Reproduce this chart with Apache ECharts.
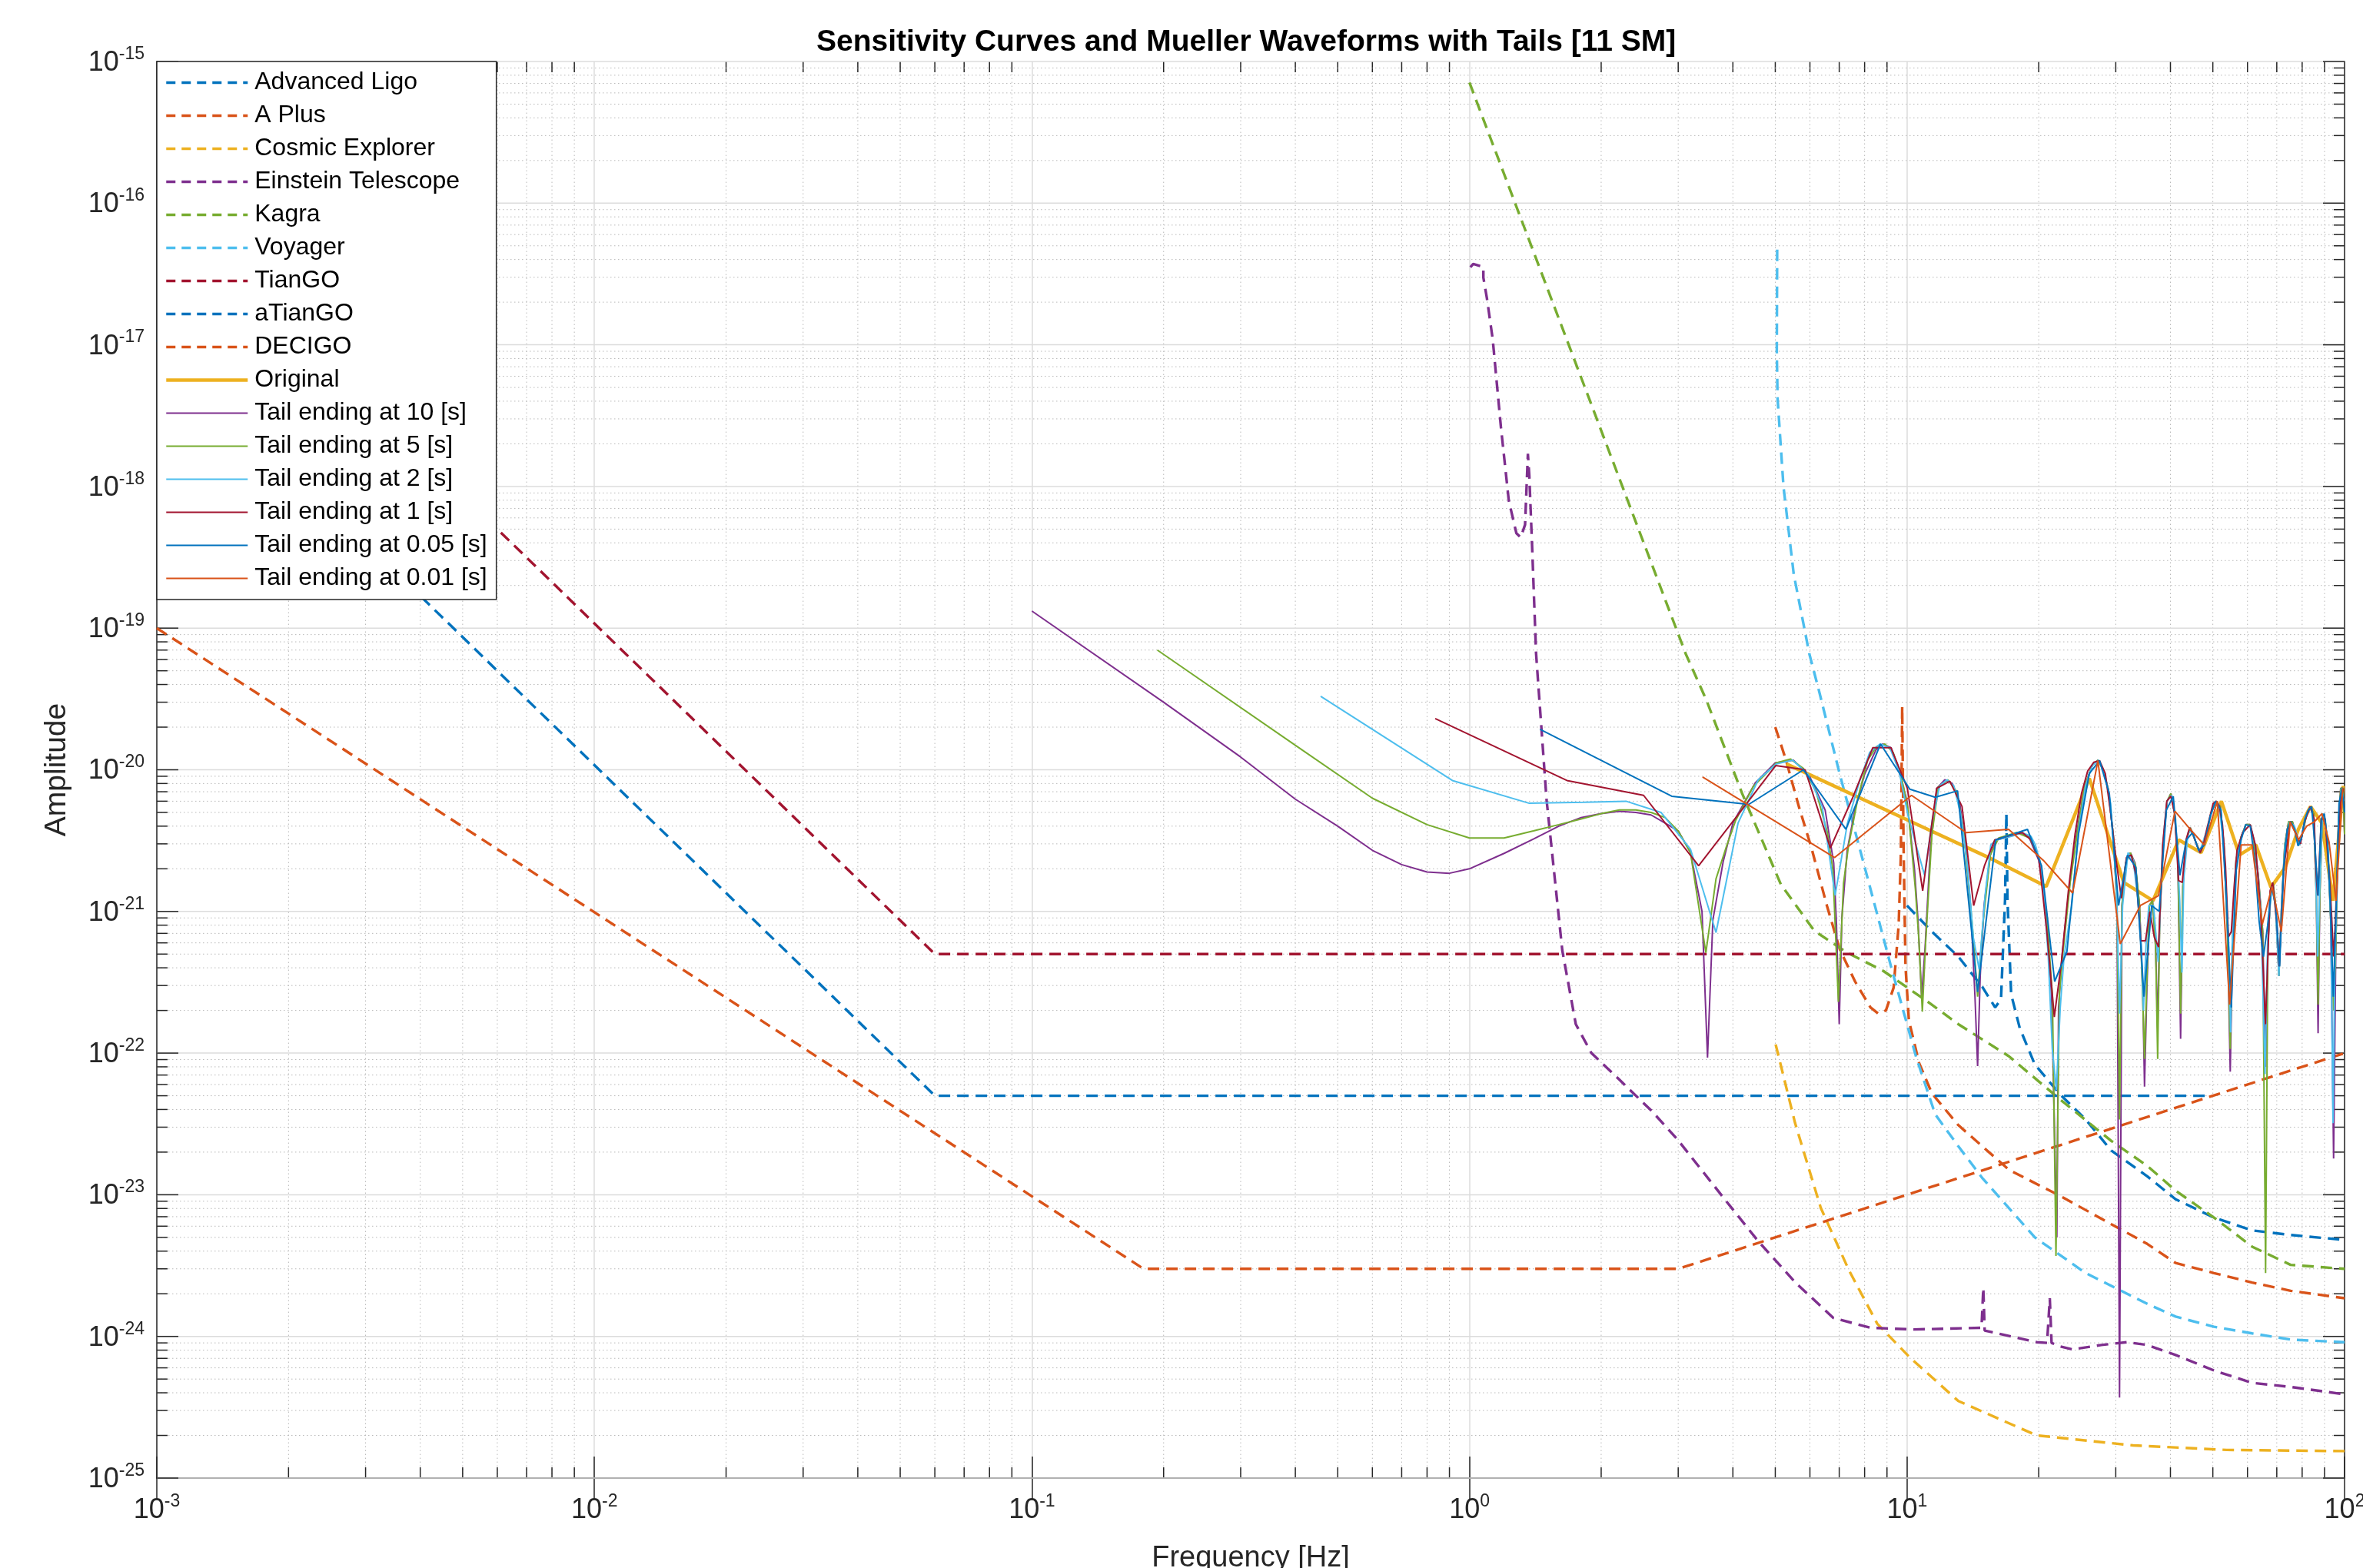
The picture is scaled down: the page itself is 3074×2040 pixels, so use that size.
<!DOCTYPE html>
<html>
<head>
<meta charset="utf-8">
<title>Sensitivity Curves and Mueller Waveforms with Tails</title>
<script src="https://cdn.jsdelivr.net/npm/echarts@6/dist/echarts.min.js"></script>
<style>
  html, body { margin: 0; padding: 0; background: #fff; }
  #chart { width: 3074px; height: 2040px; }
</style>
</head>
<body>
<div id="chart"></div>
<script>
// detector sensitivity curves, [frequency Hz, amplitude]
var advancedLigo = [[10.0,1.1e-21],[11.4,7.2e-22],[13.1,4.8e-22],[14.9,2.9e-22],[15.9,2.1e-22],[16.4,2.4e-22],[16.75,1.2e-21],[16.87,4.9e-21],[16.97,1.2e-21],[17.3,2.6e-22],[18.1,1.5e-22],[19.6,8.3e-23],[22.4,5.1e-23],[25.6,3.4e-23],[29.3,2.05e-23],[35.4,1.35e-23],[41.1,9.3e-24],[50.3,6.9e-24],[61.5,5.6e-24],[75.3,5.2e-24],[100,4.8e-24]];
var aPlus = [[5.0,2.0e-20],[5.29,1.17e-20],[5.66,5.5e-21],[6.05,2.8e-21],[6.56,1.1e-21],[7.02,5.4e-22],[7.61,3.2e-22],[8.25,2.1e-22],[8.6,1.9e-22],[8.95,2.0e-22],[9.32,2.9e-22],[9.57,8e-22],[9.68,2.45e-21],[9.75,2.8e-20],[9.82,3e-21],[9.92,4.1e-22],[10.1,1.7e-22],[10.66,8.5e-23],[11.4,5.2e-23],[13.1,3.1e-23],[17.1,1.5e-23],[22.4,9.8e-24],[29.3,6.2e-24],[35.4,4.5e-24],[41.1,3.3e-24],[50.3,2.8e-24],[61.5,2.4e-24],[75.3,2.1e-24],[100,1.86e-24]];
var cosmicExplorer = [[5.01,1.15e-22],[5.55,3.2e-23],[6.35,8.1e-24],[7.36,2.95e-24],[8.55,1.23e-24],[10.2,7.0e-25],[13.1,3.5e-25],[19.8,2.0e-25],[32.9,1.7e-25],[53.8,1.58e-25],[100,1.55e-25]];
var einsteinTelescope = [[1.005,3.53e-17],[1.02,3.72e-17],[1.076,3.55e-17],[1.076,2.98e-17],[1.096,2.14e-17],[1.13,1.1e-17],[1.18,2.63e-18],[1.23,7.94e-19],[1.28,4.68e-19],[1.31,4.37e-19],[1.34,5.37e-19],[1.36,1.7e-18],[1.37,1.2e-18],[1.39,3.9e-19],[1.42,6.6e-20],[1.5,6.2e-21],[1.63,5.3e-22],[1.75,1.6e-22],[1.9,1.0e-22],[2.2,6.5e-23],[2.61,3.9e-23],[2.99,2.45e-23],[3.76,1.0e-23],[4.57,4.7e-24],[5.56,2.4e-24],[6.79,1.35e-24],[8.26,1.15e-24],[10.4,1.12e-24],[14.8,1.15e-24],[14.94,2.2e-24],[15.05,1.1e-24],[19.8,9.1e-25],[20.9,9.0e-25],[21.2,1.86e-24],[21.4,9.0e-25],[22.4,8.5e-25],[23.9,8.1e-25],[27.8,8.7e-25],[31.8,9.1e-25],[35.4,8.7e-25],[41.1,7.4e-25],[50.3,5.75e-25],[61.5,4.7e-25],[75.3,4.4e-25],[100,3.9e-25]];
var kagra = [[1.0,7.1e-16],[3.12,6.6e-20],[3.48,3.1e-20],[4.2,6.8e-21],[5.15,1.55e-21],[6.14,7.3e-22],[7.31,5.1e-22],[8.83,3.8e-22],[11.3,2.24e-22],[13.1,1.6e-22],[17.1,9.5e-23],[22.4,4.7e-23],[29.3,2.4e-23],[35.4,1.6e-23],[41.1,1.07e-23],[50.3,6.9e-24],[61.5,4.3e-24],[75.3,3.2e-24],[100,3.0e-24]];
var voyager = [[5.05,4.7e-17],[5.04,9.0e-18],[5.06,4.2e-18],[5.22,1.0e-18],[5.51,2.4e-19],[5.98,6.6e-20],[6.3,3.56e-20],[7.02,9.3e-21],[8.04,1.95e-21],[9.19,4.1e-22],[10.5,9.3e-23],[11.6,3.7e-23],[13.1,2.2e-23],[14.9,1.3e-23],[19.6,5.0e-24],[25.6,2.8e-24],[35.4,1.7e-24],[41.1,1.38e-24],[50.3,1.17e-24],[61.5,1.05e-24],[75.3,9.5e-25],[100,9.1e-25]];
var tianGO = [[0.001,1.08e-16],[0.06,5e-22],[100,5e-22]];
var aTianGO = [[0.001,1.08e-17],[0.06,5e-23],[48,5e-23]];
var decigo = [[0.001,1e-19],[0.18,3.0e-24],[3.0,3.0e-24],[100,1e-22]];

// waveform spectra
var original = [[5.3,1.1e-20],[10.4,4.2e-21],[15.6,2.35e-21],[20.8,1.5e-21],[26.1,8.7e-21],[31.3,1.6e-21],[36.5,1.19e-21],[41.8,3.2e-21],[47.0,2.6e-21],[52.3,6.0e-21],[57.5,2.5e-21],[62.7,2.95e-21],[67.9,1.48e-21],[73.2,2.05e-21],[78.4,3.8e-21],[83.6,5.5e-21],[88.8,4.2e-21],[94.1,1.19e-21],[99.3,7.7e-21]];
var tail10 = [[0.1,1.32e-19],[0.2,3.0e-20],[0.3,1.23e-20],[0.4,6.2e-21],[0.5,4.0e-21],[0.6,2.7e-21],[0.7,2.14e-21],[0.8,1.9e-21],[0.9,1.86e-21],[1.0,2.0e-21],[1.2,2.57e-21],[1.4,3.24e-21],[1.6,4.0e-21],[1.8,4.6e-21],[2.0,4.9e-21],[2.2,5.1e-21],[2.4,5.0e-21],[2.6,4.8e-21],[2.8,4.2e-21],[3.0,3.7e-21],[3.2,2.6e-21],[3.4,1.0e-21],[3.5,9.3e-23],[3.6,8.7e-22],[3.8,2.24e-21],[4.0,4.2e-21],[4.5,8.1e-21],[5.0,1.12e-20],[5.5,1.17e-20],[6.0,8.9e-21],[6.5,5.2e-21],[6.8,2.2e-21],[6.9,8e-22],[7.0,1.6e-22],[7.1,9.1e-22],[7.3,2.7e-21],[7.6,5.2e-21],[8.0,9.3e-21],[8.5,1.39e-20],[8.8,1.52e-20],[9.2,1.43e-20],[9.6,9.7e-21],[10.0,6.0e-21],[10.4,2.0e-21],[10.6,8.5e-22],[10.8,2.5e-22],[11.0,5.6e-22],[11.3,2.7e-21],[11.7,7.4e-21],[12.2,8.5e-21],[12.7,8.0e-21],[13.2,5.8e-21],[13.6,2.96e-21],[14.0,1.0e-21],[14.3,2.5e-22],[14.5,8.1e-23],[14.7,3.5e-22],[15.0,1.1e-21],[15.5,2.5e-21],[16.0,3.2e-21],[17.0,3.35e-21],[18.0,3.6e-21],[19.0,3.35e-21],[20.0,2.3e-21],[20.8,1.0e-21],[21.4,2.5e-22],[22.0,5e-24],[22.2,2.1e-22],[22.6,4.8e-22],[23.5,1.5e-21],[24.5,3.8e-21],[25.5,7.7e-21],[26.5,1.07e-20],[27.3,1.17e-20],[28.0,1.02e-20],[28.8,7.4e-21],[29.6,3.5e-21],[30.2,1.1e-21],[30.6,3.7e-25],[31.0,1.1e-21],[31.6,2.2e-21],[32.4,2.6e-21],[33.2,2.2e-21],[34.0,1.1e-21],[34.6,2.5e-22],[34.9,5.8e-23],[35.3,2.5e-22],[35.8,1.1e-21],[36.4,1.19e-21],[37.0,5.6e-22],[37.4,1.5e-22],[37.8,8.5e-22],[38.5,2.95e-21],[39.3,6.0e-21],[40.1,6.8e-21],[40.9,4.9e-21],[41.6,2.3e-21],[42.2,1.26e-22],[42.7,1.5e-21],[43.5,3.2e-21],[44.4,3.9e-21],[45.5,3.2e-21],[46.8,2.6e-21],[48.0,3.2e-21],[49.5,4.9e-21],[50.8,6.0e-21],[52.0,5.5e-21],[53.0,2.95e-21],[54.0,7.2e-22],[54.8,7.4e-23],[55.6,8.5e-22],[56.5,2.3e-21],[58.0,3.35e-21],[59.5,4.1e-21],[60.8,4.1e-21],[62.0,3.2e-21],[63.5,1.8e-21],[65.0,7.2e-22],[66.0,8e-23],[66.8,5.6e-22],[67.8,1.4e-21],[68.6,1.6e-21],[69.6,1.1e-21],[70.8,3.5e-22],[71.8,1.1e-21],[73.0,2.95e-21],[74.5,4.3e-21],[76.0,4.3e-21],[77.5,3.5e-21],[79.0,2.95e-21],[80.5,3.8e-21],[82.0,4.9e-21],[83.5,5.5e-21],[85.0,4.9e-21],[86.2,1.29e-21],[87.0,1.38e-22],[87.8,1.29e-21],[89.0,4.9e-21],[90.2,4.5e-21],[91.5,2.95e-21],[93.0,8.5e-22],[94.4,1.8e-23],[95.5,5.6e-22],[96.8,4.1e-21],[98.0,7.4e-21],[99.2,7.4e-21],[100,3.5e-21]];
var tail5 = [[0.1935,7.0e-20],[0.4,1.49e-20],[0.6,6.3e-21],[0.8,4.1e-21],[1.0,3.3e-21],[1.2,3.3e-21],[1.4,3.7e-21],[1.6,4.1e-21],[1.8,4.5e-21],[2.0,4.9e-21],[2.2,5.2e-21],[2.4,5.2e-21],[2.6,5.0e-21],[2.8,4.6e-21],[3.0,3.7e-21],[3.2,2.6e-21],[3.47,5.1e-22],[3.66,1.7e-21],[3.87,2.9e-21],[4.06,4.4e-21],[4.45,7.6e-21],[5.03,1.12e-20],[5.42,1.19e-20],[5.8,1.02e-20],[6.19,7.1e-21],[6.58,3.6e-21],[6.77,1.95e-21],[6.97,2.3e-22],[7.16,1.58e-21],[7.35,2.9e-21],[7.74,6.5e-21],[8.13,1.17e-20],[8.52,1.46e-20],[8.9,1.52e-20],[9.29,1.33e-20],[9.68,9.3e-21],[10.06,5.2e-21],[10.45,1.44e-21],[10.64,6.4e-22],[10.84,1.96e-22],[11.03,6e-22],[11.4,3.5e-21],[11.8,7.6e-21],[12.4,8.5e-21],[13.0,7.0e-21],[13.5,3.5e-21],[14.1,8e-22],[14.5,2.5e-22],[14.9,8e-22],[15.5,2.5e-21],[16.2,3.3e-21],[17.8,3.6e-21],[19.1,3.3e-21],[20.1,2.3e-21],[20.9,9e-22],[21.5,2.5e-22],[21.9,3.7e-24],[22.3,2.6e-22],[22.7,5e-22],[23.6,1.6e-21],[24.6,3.9e-21],[25.5,7.7e-21],[26.5,1.07e-20],[27.3,1.17e-20],[28.1,1.0e-20],[28.8,7.4e-21],[29.6,3.5e-21],[30.2,1.1e-21],[30.6,3.4e-23],[31.0,1.1e-21],[31.6,2.2e-21],[32.4,2.6e-21],[33.3,2.1e-21],[34.0,1.1e-21],[34.5,3e-22],[34.9,9.1e-23],[35.3,3e-22],[35.8,1.1e-21],[36.4,1.19e-21],[37.0,5.6e-22],[37.4,9.1e-23],[37.8,8.5e-22],[38.5,2.95e-21],[39.3,6.0e-21],[40.1,6.8e-21],[40.9,4.9e-21],[41.6,2.3e-21],[42.2,1.9e-22],[42.7,1.5e-21],[43.5,3.2e-21],[44.4,3.9e-21],[45.5,3.2e-21],[46.8,2.6e-21],[48.0,3.2e-21],[49.5,4.9e-21],[50.8,6.0e-21],[52.0,5.5e-21],[53.0,2.95e-21],[54.0,7.2e-22],[54.8,1.07e-22],[55.6,8.5e-22],[56.5,2.3e-21],[58.0,3.35e-21],[59.5,4.1e-21],[60.8,4.1e-21],[62.0,3.2e-21],[63.5,1.8e-21],[65.0,7.2e-22],[66.0,2.8e-24],[66.8,5.6e-22],[67.8,1.4e-21],[68.6,1.6e-21],[69.6,1.1e-21],[70.8,3.5e-22],[71.8,1.1e-21],[73.0,2.95e-21],[74.5,4.3e-21],[76.0,4.3e-21],[77.5,3.5e-21],[79.0,2.95e-21],[80.5,3.8e-21],[82.0,4.9e-21],[83.5,5.5e-21],[85.0,4.9e-21],[86.2,1.29e-21],[87.0,2.2e-22],[87.8,1.29e-21],[89.0,4.9e-21],[90.2,4.5e-21],[91.5,2.95e-21],[93.0,8.5e-22],[94.4,2e-22],[95.5,5.6e-22],[96.8,4.1e-21],[98.0,7.4e-21],[99.2,7.4e-21],[100,3.5e-21]];
var tail2 = [[0.457,3.3e-20],[0.914,8.4e-21],[1.37,5.8e-21],[1.83,5.9e-21],[2.28,6.0e-21],[2.74,5.0e-21],[3.2,2.75e-21],[3.66,7.1e-22],[4.11,4.2e-21],[4.57,8.5e-21],[5.03,1.1e-20],[5.48,1.17e-20],[5.94,9.3e-21],[6.4,5.5e-21],[6.85,1.3e-21],[7.31,4.2e-21],[7.77,8.1e-21],[8.22,1.33e-20],[8.68,1.52e-20],[9.14,1.43e-20],[9.6,9.7e-21],[10.05,4.8e-21],[10.5,2.9e-21],[10.97,1.8e-21],[11.43,4.5e-21],[11.88,7.7e-21],[12.34,8.5e-21],[12.8,7.7e-21],[13.25,4.9e-21],[13.71,2.3e-21],[14.17,6.6e-22],[14.62,3.9e-22],[15.08,1.29e-21],[15.54,2.95e-21],[16.0,3.2e-21],[17.4,3.4e-21],[18.3,3.6e-21],[19.2,3.4e-21],[19.65,2.95e-21],[20.1,2.3e-21],[20.57,1.29e-21],[21.03,4.8e-22],[21.48,1.07e-22],[21.94,5.5e-23],[22.4,2.1e-22],[22.85,4.8e-22],[23.8,1.1e-21],[24.7,3.8e-21],[25.6,7.7e-21],[26.5,1.07e-20],[27.4,1.17e-20],[28.3,9.5e-21],[29.2,5.8e-21],[30.1,1.5e-21],[30.6,1.9e-22],[31.1,1.1e-21],[32.0,2.6e-21],[32.9,2.3e-21],[33.8,1.1e-21],[34.3,6e-22],[34.7,2.0e-22],[35.2,6e-22],[35.7,1.1e-21],[36.6,1.1e-21],[37.5,4.4e-22],[38.4,2.9e-21],[39.3,6.0e-21],[40.2,6.6e-21],[41.1,4.5e-21],[42.0,1.2e-21],[42.5,3.7e-22],[42.9,1.7e-21],[43.9,3.6e-21],[44.8,3.7e-21],[46.6,2.6e-21],[48.5,3.8e-21],[50.3,5.8e-21],[51.6,5.7e-21],[53.0,2.95e-21],[54.4,5.5e-22],[54.9,1.4e-22],[55.3,5.5e-22],[56.7,2.4e-21],[58.5,3.6e-21],[60.8,4.1e-21],[62.6,2.9e-21],[64.4,1.0e-21],[65.8,7.1e-23],[66.7,6e-22],[68.1,1.5e-21],[69.5,1.1e-21],[70.8,3.5e-22],[71.8,1.1e-21],[73.1,2.95e-21],[74.9,4.3e-21],[76.8,4.0e-21],[79.0,2.95e-21],[81.2,4.5e-21],[83.5,5.5e-21],[85.3,4.3e-21],[86.2,1.3e-21],[86.8,4.8e-22],[87.7,1.4e-21],[89.0,4.9e-21],[90.4,4.4e-21],[91.8,2.6e-21],[93.1,8e-22],[94.1,3.2e-23],[95.0,4e-22],[96.9,4.1e-21],[98.3,7.4e-21],[99.6,6e-21]];
var tail1 = [[0.835,2.3e-20],[1.67,8.4e-21],[2.5,6.6e-21],[3.34,2.1e-21],[4.17,5.1e-21],[5.01,1.07e-20],[5.85,1.0e-20],[6.68,2.8e-21],[7.52,6.4e-21],[8.35,1.43e-20],[9.19,1.43e-20],[10.02,7.4e-21],[10.86,1.4e-21],[11.69,7.4e-21],[12.53,8.3e-21],[13.36,5.5e-21],[14.2,1.1e-21],[15.03,2.1e-21],[15.87,3.2e-21],[16.7,3.35e-21],[17.54,3.5e-21],[18.37,3.6e-21],[19.2,3.2e-21],[20.04,2.3e-21],[20.87,7.2e-22],[21.71,1.8e-22],[22.54,4.4e-22],[23.38,1.4e-21],[24.21,3.5e-21],[25.05,6.8e-21],[25.88,9.8e-21],[26.72,1.13e-20],[27.55,1.16e-20],[28.39,9.4e-21],[29.22,4.9e-21],[30.06,2.3e-21],[30.89,1.24e-21],[31.73,2.4e-21],[32.56,2.5e-21],[33.4,1.8e-21],[34.23,6.2e-22],[35.07,6.2e-22],[35.9,1.0e-21],[36.74,6.6e-22],[37.57,5.6e-22],[38.41,2.95e-21],[39.24,6.0e-21],[40.08,6.5e-21],[40.91,4.9e-21],[41.75,1.65e-21],[42.58,1.6e-21],[43.42,3.2e-21],[44.25,3.9e-21],[45.09,3.5e-21],[45.92,2.95e-21],[46.76,2.6e-21],[47.59,2.95e-21],[48.43,3.8e-21],[49.26,4.7e-21],[50.1,5.8e-21],[50.93,6.0e-21],[51.77,5.5e-21],[52.6,4.1e-21],[53.44,2.1e-21],[54.27,6.6e-22],[55.11,7.2e-22],[55.94,1.5e-21],[56.78,2.7e-21],[58.5,3.6e-21],[60.9,4.1e-21],[62.6,2.9e-21],[64.3,1.0e-21],[65.97,1.6e-22],[67.6,1.4e-21],[68.5,1.6e-21],[70.1,8e-22],[70.9,4.1e-22],[72.6,2.0e-21],[75.1,4.3e-21],[77.6,3.5e-21],[79.3,3.0e-21],[81.0,4.3e-21],[83.5,5.5e-21],[85.2,4.5e-21],[86.0,2.0e-21],[86.8,1.3e-21],[88.5,4.5e-21],[90.2,4.5e-21],[92.7,1.5e-21],[94.4,4.8e-22],[95.2,8e-22],[97.7,5.8e-21],[99.4,7.4e-21]];
var tail005 = [[1.45,1.93e-20],[2.9,6.5e-21],[4.35,5.7e-21],[5.8,1.0e-20],[7.25,3.8e-21],[8.7,1.52e-20],[10.15,7.3e-21],[11.6,6.4e-21],[13.05,7.1e-21],[14.5,2.7e-22],[15.95,3.2e-21],[17.4,3.5e-21],[18.85,3.8e-21],[20.3,2.1e-21],[21.75,3.2e-22],[23.2,5.2e-22],[24.65,3.5e-21],[26.1,9.4e-21],[27.55,1.16e-20],[29.0,6.8e-21],[30.45,1.1e-21],[31.9,2.5e-21],[33.35,2.05e-21],[34.8,2.5e-22],[36.25,1.1e-21],[37.7,1.0e-21],[39.15,5.2e-21],[40.6,6.5e-21],[42.05,1.8e-21],[43.5,3.2e-21],[44.95,3.6e-21],[46.4,2.7e-21],[47.85,2.95e-21],[49.3,4.7e-21],[50.75,6.0e-21],[52.2,5.2e-21],[53.65,1.29e-21],[55.1,2.1e-22],[56.55,1.95e-21],[58.0,3.2e-21],[59.45,4.1e-21],[60.9,4.0e-21],[62.35,2.3e-21],[63.8,8.5e-22],[65.25,4.8e-22],[66.7,7.9e-22],[68.15,1.5e-21],[69.6,1.1e-21],[71.05,4.1e-22],[72.5,1.95e-21],[73.95,3.8e-21],[75.4,4.3e-21],[76.85,3.8e-21],[78.3,2.9e-21],[79.75,3.3e-21],[81.2,4.5e-21],[82.65,5.2e-21],[84.1,5.5e-21],[85.55,2.95e-21],[87.0,1.29e-21],[88.45,4.5e-21],[89.9,4.9e-21],[91.35,3.2e-21],[92.8,1.1e-21],[94.25,2.5e-22],[95.7,1.1e-21],[97.15,5.8e-21],[98.6,7.4e-21],[100,5e-21]];
var tail001 = [[3.41,8.9e-21],[6.83,2.4e-21],[10.24,6.6e-21],[13.65,3.6e-21],[17.07,3.8e-21],[20.48,2.3e-21],[23.9,1.35e-21],[27.31,1.16e-20],[30.72,5.9e-22],[34.14,1.1e-21],[37.55,1.29e-21],[40.96,5.1e-21],[44.38,3.8e-21],[47.79,2.95e-21],[51.2,6.0e-21],[54.62,2.2e-22],[58.03,2.95e-21],[61.45,2.95e-21],[64.86,8.1e-22],[68.28,1.5e-21],[71.69,7.2e-22],[75.1,4.3e-21],[78.52,3.2e-21],[81.93,4.0e-21],[85.35,4.3e-21],[88.76,4.9e-21],[92.17,3.1e-21],[95.59,1.19e-21],[99.0,7.4e-21]];

// axes
var xRange = [1e-3, 1e2];
var yRange = [1e-25, 1e-15];
var yDecades = [-25, -24, -23, -22, -21, -20, -19, -18, -17, -16, -15];
var minorSteps = [2, 3, 4, 5, 6, 7, 8, 9];

var FONT = "'Liberation Sans', Arial, Helvetica, sans-serif";
var AXIS_COLOR = '#262626';
var MATLAB = ['#0072BD', '#D95319', '#EDB120', '#7E2F8E', '#77AC30', '#4DBEEE', '#A2142F'];
var DASH = [15, 9];

function dashed(name, data, color) {
  return {
    name: name, type: 'line', data: data, symbol: 'none', z: 3,
    lineStyle: { color: color, width: 3.4, type: DASH },
    itemStyle: { color: color }
  };
}
function solid(name, data, color, width) {
  return {
    name: name, type: 'line', data: data, symbol: 'none', z: 3,
    lineStyle: { color: color, width: width },
    itemStyle: { color: color }
  };
}

function powLabel(v) {
  var e = Math.round(Math.log10(v));
  return '{b|10}{s|' + e + '}';
}
var labelRich = {
  b: { fontSize: 36, fontFamily: FONT, fill: AXIS_COLOR, color: AXIS_COLOR, verticalAlign: 'bottom', lineHeight: 36 },
  s: { fontSize: 23, fontFamily: FONT, fill: AXIS_COLOR, color: AXIS_COLOR, verticalAlign: 'bottom', lineHeight: 23, padding: [0, 0, 18, 0] }
};

// grid lines, ticks and y labels, placed through the axes
var gridItems = [];
for (var e = -3; e < 2; e++) {
  minorSteps.forEach(function (m) { gridItems.push([m * Math.pow(10, e), 1e-20, 0]); });
}
for (var k = -25; k < -15; k++) {
  minorSteps.forEach(function (m) { gridItems.push([1e-2, m * Math.pow(10, k), 1]); });
}
yDecades.forEach(function (d) { gridItems.push([1e-2, Math.pow(10, d), 2]); });

function renderGrid(params, api) {
  var kind = api.value(2);
  var minorStyle = { stroke: '#b9b9b9', lineWidth: 1, lineDash: [1.5, 3.5] };
  var majorStyle = { stroke: '#dcdcdc', lineWidth: 1.5 };
  var tickStyle = { stroke: AXIS_COLOR, lineWidth: 1.5 };
  var a, b;
  if (kind === 0) {
    var v = api.value(0);
    a = api.coord([v, yRange[0]]);
    b = api.coord([v, yRange[1]]);
    return { type: 'group', children: [
      { type: 'line', shape: { x1: a[0], y1: a[1], x2: b[0], y2: b[1] }, style: minorStyle },
      { type: 'line', shape: { x1: a[0], y1: a[1], x2: a[0], y2: a[1] - 14 }, style: tickStyle },
      { type: 'line', shape: { x1: b[0], y1: b[1], x2: b[0], y2: b[1] + 14 }, style: tickStyle }
    ] };
  }
  var w = api.value(1);
  a = api.coord([xRange[0], w]);
  b = api.coord([xRange[1], w]);
  if (kind === 1) {
    return { type: 'group', children: [
      { type: 'line', shape: { x1: a[0], y1: a[1], x2: b[0], y2: b[1] }, style: minorStyle },
      { type: 'line', shape: { x1: a[0], y1: a[1], x2: a[0] + 14, y2: a[1] }, style: tickStyle },
      { type: 'line', shape: { x1: b[0], y1: b[1], x2: b[0] - 14, y2: b[1] }, style: tickStyle }
    ] };
  }
  return { type: 'group', children: [
    { type: 'line', shape: { x1: a[0], y1: a[1], x2: b[0], y2: b[1] }, style: majorStyle },
    { type: 'line', shape: { x1: a[0], y1: a[1], x2: a[0] + 28, y2: a[1] }, style: tickStyle },
    { type: 'line', shape: { x1: b[0], y1: b[1], x2: b[0] - 28, y2: b[1] }, style: tickStyle },
    { type: 'text', x: a[0] - 16, y: a[1] + 2,
      style: { text: powLabel(w), rich: labelRich, align: 'right', verticalAlign: 'middle', fill: AXIS_COLOR, fontFamily: FONT, fontSize: 36 } }
  ] };
}

var legendNames = ['Advanced Ligo', 'A Plus', 'Cosmic Explorer', 'Einstein Telescope', 'Kagra', 'Voyager', 'TianGO', 'aTianGO', 'DECIGO', 'Original',
  'Tail ending at 10 [s]', 'Tail ending at 5 [s]', 'Tail ending at 2 [s]', 'Tail ending at 1 [s]', 'Tail ending at 0.05 [s]', 'Tail ending at 0.01 [s]'];
var legendData = legendNames.map(function (n, i) {
  var w = i < 9 ? 3.4 : (i === 9 ? 4.5 : 2);
  return { name: n, lineStyle: { width: w, type: i < 9 ? [12, 8] : 'solid', opacity: 1 } };
});

var baseAxis = {
  type: 'log', logBase: 10,
  axisLine: { show: true, lineStyle: { color: AXIS_COLOR, width: 1.5 } },
  axisTick: { show: true, inside: true, length: 28, lineStyle: { color: AXIS_COLOR, width: 1.5 } },
  minorTick: { show: false },
  splitLine: { show: false }
};

var option = {
  backgroundColor: '#fff',
  animation: false,
  title: {
    text: 'Sensitivity Curves and Mueller Waveforms with Tails [11 SM]',
    left: 1062, top: 36, padding: 0,
    textStyle: { fontSize: 39, fontWeight: 'bold', fontFamily: FONT, color: '#000' }
  },
  grid: { left: 204, top: 80, width: 2846, height: 1843, containLabel: false, outerBoundsMode: 'none' },
  legend: {
    data: legendData, orient: 'vertical', left: 204, top: 80,
    itemWidth: 106, itemHeight: 14, itemGap: 10,
    padding: [11, 12, 11, 10],
    backgroundColor: '#fff', borderColor: AXIS_COLOR, borderWidth: 1.5,
    itemStyle: { opacity: 0 },
    textStyle: { fontSize: 32, fontFamily: FONT, color: '#000', lineHeight: 33, padding: [0, 0, 0, 4] },
    selectedMode: false
  },
  xAxis: [
    Object.assign({}, baseAxis, {
      position: 'bottom', min: xRange[0], max: xRange[1], splitNumber: 5,
      name: 'Frequency [Hz]', nameLocation: 'middle', nameGap: 86, nameMoveOverlap: false,
      nameTextStyle: { fontSize: 38, fontFamily: FONT, color: AXIS_COLOR },
      axisLabel: { show: true, margin: 24, formatter: powLabel, rich: labelRich, showMinLabel: true, showMaxLabel: true, hideOverlap: false },
      splitLine: { show: true, lineStyle: { color: '#dcdcdc', width: 1.5 } }
    }),
    Object.assign({}, baseAxis, {
      position: 'top', min: xRange[0], max: xRange[1], splitNumber: 5,
      axisLabel: { show: false }
    })
  ],
  yAxis: [
    Object.assign({}, baseAxis, {
      position: 'left', min: yRange[0], max: yRange[1],
      name: 'Amplitude', nameLocation: 'middle', nameGap: 110, nameMoveOverlap: false,
      nameTextStyle: { fontSize: 39, fontFamily: FONT, color: AXIS_COLOR },
      axisTick: { show: false },
      axisLabel: { show: false }
    }),
    Object.assign({}, baseAxis, {
      position: 'right', min: yRange[0], max: yRange[1],
      axisTick: { show: false },
      axisLabel: { show: false }
    })
  ],
  series: [
    {
      name: 'gridLines', type: 'custom', data: gridItems, encode: { x: 0, y: 1 },
      renderItem: renderGrid, silent: true, z: 1
    },
    dashed('Advanced Ligo', advancedLigo, MATLAB[0]),
    dashed('A Plus', aPlus, MATLAB[1]),
    dashed('Cosmic Explorer', cosmicExplorer, MATLAB[2]),
    dashed('Einstein Telescope', einsteinTelescope, MATLAB[3]),
    dashed('Kagra', kagra, MATLAB[4]),
    dashed('Voyager', voyager, MATLAB[5]),
    dashed('TianGO', tianGO, MATLAB[6]),
    dashed('aTianGO', aTianGO, MATLAB[0]),
    dashed('DECIGO', decigo, MATLAB[1]),
    solid('Original', original, MATLAB[2], 4.5),
    solid('Tail ending at 10 [s]', tail10, MATLAB[3], 2),
    solid('Tail ending at 5 [s]', tail5, MATLAB[4], 2),
    solid('Tail ending at 2 [s]', tail2, MATLAB[5], 2),
    solid('Tail ending at 1 [s]', tail1, MATLAB[6], 2),
    solid('Tail ending at 0.05 [s]', tail005, MATLAB[0], 2),
    solid('Tail ending at 0.01 [s]', tail001, MATLAB[1], 2)
  ]
};

var chart = echarts.init(document.getElementById('chart'));
chart.setOption(option);
</script>
</body>
</html>
